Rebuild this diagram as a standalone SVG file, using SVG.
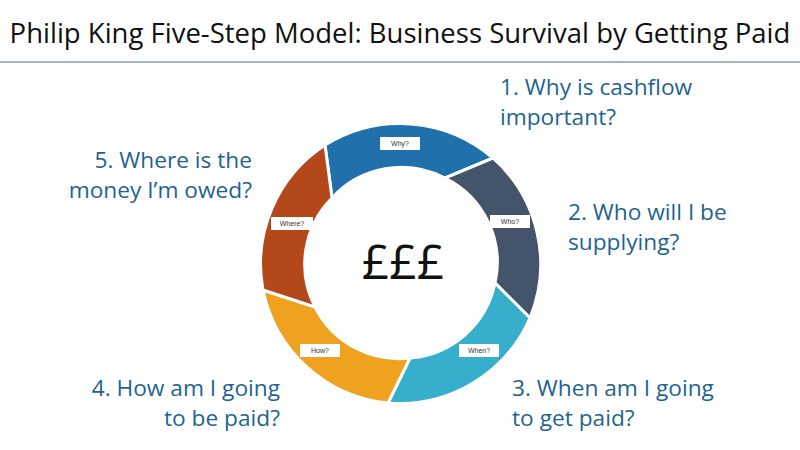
<svg xmlns="http://www.w3.org/2000/svg" width="800" height="450" viewBox="0 0 800 450">
<style>
.t{font-family:"Open Sans","Liberation Sans",sans-serif;font-size:22.7px;fill:#1f6391}
.seg path{stroke:#fff;stroke-width:3}
.lb rect{fill:#fff}
.lb text{font-family:"Liberation Sans",sans-serif;font-size:7px;fill:#333;text-anchor:middle}
</style>
<rect width="800" height="450" fill="#fff"/>
<text x="400" y="43" text-anchor="middle" font-family="Open Sans, Liberation Sans, sans-serif" font-size="27.5" fill="#111">Philip King Five-Step Model: Business Survival by Getting Paid</text>
<line x1="0" y1="62" x2="800" y2="62" stroke="#8a9bb0" stroke-width="1.5"/>
<g class="seg">
<g id="why"><path fill="#2071ab" d="M325,145 A142,142 0 0 1 493,158 L445,178 A94,94 0 0 0 332,198 Z"/><g class="lb"><rect x="380" y="137" width="40" height="13"/><text x="400" y="146">Why?</text></g></g>
<g id="who"><path fill="#44546a" d="M493,158 A142,142 0 0 1 530,318 L495,283 A94,94 0 0 0 445,178 Z"/><g class="lb"><rect x="490" y="215" width="40" height="13"/><text x="510" y="224">Who?</text></g></g>
<g id="when"><path fill="#37aecb" d="M530,318 A142,142 0 0 1 388,403 L410,358 A94,94 0 0 0 495,283 Z"/><g class="lb"><rect x="459" y="344" width="40" height="13"/><text x="479" y="353">When?</text></g></g>
<g id="how"><path fill="#eea220" d="M388,403 A142,142 0 0 1 263,290 L315,307 A94,94 0 0 0 410,358 Z"/><g class="lb"><rect x="300" y="344" width="40" height="13"/><text x="320" y="353">How?</text></g></g>
<g id="where"><path fill="#b5481a" d="M263,290 A142,142 0 0 1 325,145 L332,198 A94,94 0 0 0 315,307 Z"/><g class="lb"><rect x="271" y="217" width="42" height="13"/><text x="292" y="226">Where?</text></g></g>
</g>
<text x="403" y="279" text-anchor="middle" font-family="Open Sans, Liberation Sans, sans-serif" font-size="48" fill="#111">£££</text>
<text class="t" x="500" y="95">1. Why is cashflow</text>
<text class="t" x="500" y="125">important?</text>
<text class="t" x="252" y="168" text-anchor="end">5. Where is the</text>
<text class="t" x="252" y="198" text-anchor="end">money I’m owed?</text>
<text class="t" x="568" y="220">2. Who will I be</text>
<text class="t" x="568" y="250">supplying?</text>
<text class="t" x="280" y="396" text-anchor="end">4. How am I going</text>
<text class="t" x="280" y="426" text-anchor="end">to be paid?</text>
<text class="t" x="512" y="396">3. When am I going</text>
<text class="t" x="512" y="426">to get paid?</text>
</svg>
